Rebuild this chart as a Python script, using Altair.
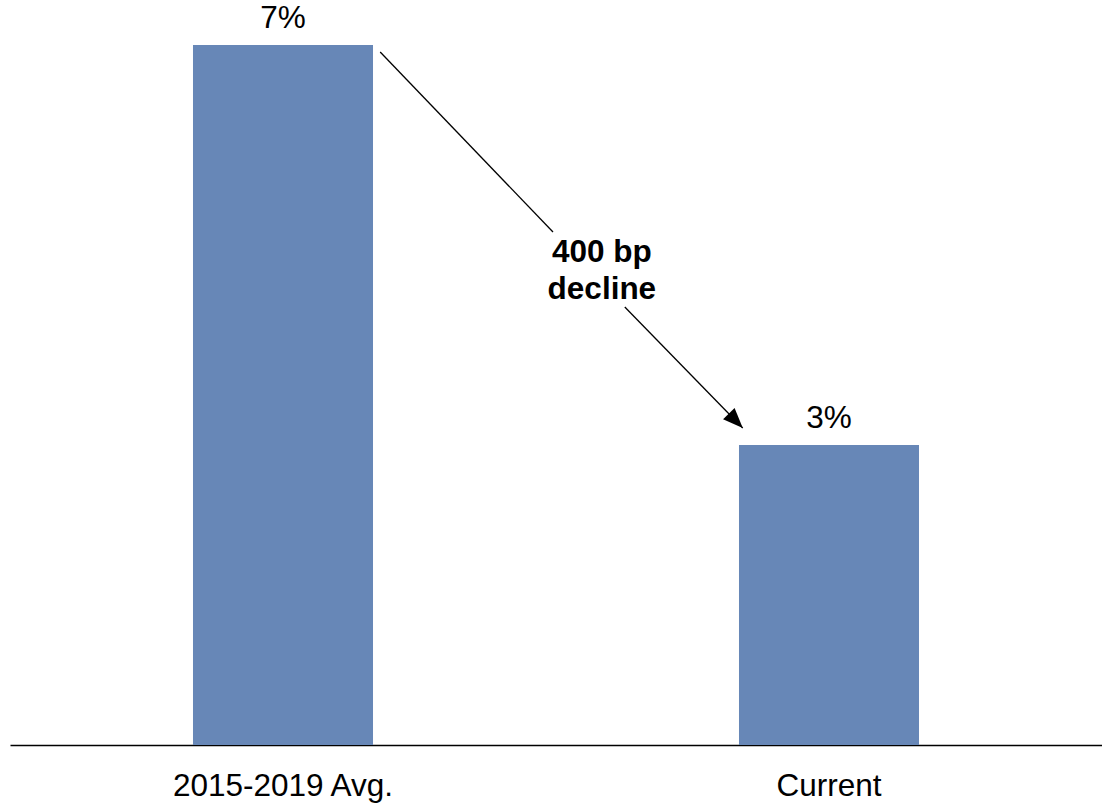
import altair as alt
import pandas as pd

# Bar data
categories = ["2015-2019 Avg.", "Current"]
values = [7, 3]
value_labels = ["7%", "3%"]

# Annotation arrow (x in band-step units, y in chart value units)
arrow_seg_x = [0.678, 0.9945]
arrow_seg_y = [6.93, 5.13]
arrow_seg2_x = [1.126, 1.342]
arrow_seg2_y = [4.38, 3.17]
note_text = ["400 bp", "decline"]
note_x = [1.084]
note_y = [4.83]

FONT = "Liberation Sans"
BAR_COLOR = "#6787B7"
FS = 31.5

bars_df = pd.DataFrame({"cat": categories, "val": values, "lab": value_labels})
seg_df = pd.DataFrame({
    "x": [arrow_seg_x[0], arrow_seg2_x[0]],
    "y": [arrow_seg_y[0], arrow_seg2_y[0]],
    "x2": [arrow_seg_x[1], arrow_seg2_x[1]],
    "y2": [arrow_seg_y[1], arrow_seg2_y[1]],
})
head_df = pd.DataFrame({"x": [arrow_seg2_x[1]], "y": [arrow_seg2_y[1]]})
note_df = pd.DataFrame({"x": note_x, "y": note_y, "t": [note_text]})

yscale = alt.Scale(domain=[0, 7], nice=False, zero=True)
xband = alt.Scale(paddingInner=0.6703, paddingOuter=0.33515)
xq = alt.Scale(domain=[0, 2], nice=False, zero=False)

base = alt.Chart(bars_df)
bar = base.mark_bar(color=BAR_COLOR).encode(
    x=alt.X("cat:N", sort=categories, scale=xband,
            axis=alt.Axis(title=None, labelAngle=0, ticks=False, tickSize=0,
                          labelFont=FONT, labelFontSize=FS, labelColor="black",
                          labelBaseline="alphabetic", labelPadding=50, labelLimit=0,
                          domainColor="black", domainWidth=1.5, grid=False)),
    y=alt.Y("val:Q", scale=yscale, axis=None),
)
vlabels = base.mark_text(font=FONT, fontSize=FS, color="black", baseline="alphabetic", dy=-17).encode(
    x=alt.X("cat:N", sort=categories, scale=xband, axis=None),
    y=alt.Y("val:Q", scale=yscale, axis=None),
    text="lab:N",
)

segs = alt.Chart(seg_df).mark_rule(color="black", strokeWidth=1.3).encode(
    x=alt.X("x:Q", scale=xq, axis=None),
    x2="x2:Q",
    y=alt.Y("y:Q", scale=yscale, axis=None),
    y2="y2:Q",
)
head = alt.Chart(head_df).mark_point(
    shape="M0,0L-0.4,1L0.4,1Z", filled=True, color="black", opacity=1,
    size=1600, angle=136,
).encode(
    x=alt.X("x:Q", scale=xq, axis=None),
    y=alt.Y("y:Q", scale=yscale, axis=None),
)
note = alt.Chart(note_df).mark_text(
    font=FONT, fontSize=FS, fontWeight="bold", color="black",
    baseline="alphabetic", align="center", lineHeight=37,
).encode(
    x=alt.X("x:Q", scale=xq, axis=None),
    y=alt.Y("y:Q", scale=yscale, axis=None),
    text="t",
)

chart = alt.layer(bar, vlabels, segs, head, note).resolve_scale(x="independent").properties(
    width=1092, height=700,
    autosize=alt.AutoSizeParams(type="none"),
    padding={"left": 10, "top": 45, "right": 0, "bottom": 58},
    background="white",
).configure_view(stroke=None)

chart.save("out.html", embed_options={"renderer": "svg", "actions": False})
